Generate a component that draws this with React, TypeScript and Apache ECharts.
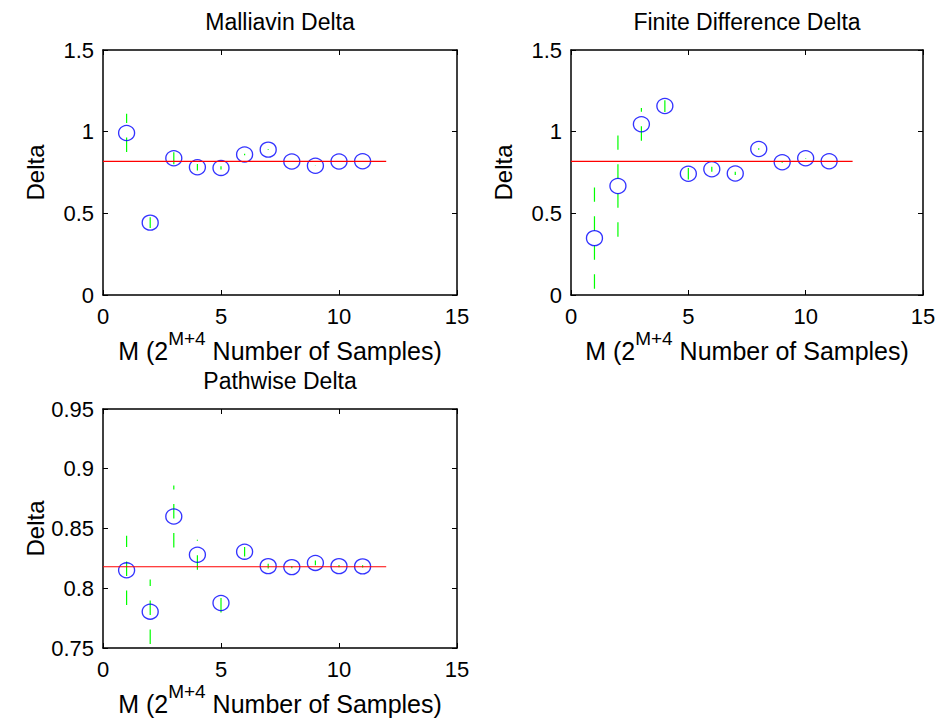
import React, { useEffect, useRef } from "react";
import * as echarts from "echarts";

const mValues = [1, 2, 3, 4, 5, 6, 7, 8, 9, 10, 11];
const malliavinDelta = [0.992, 0.443, 0.837, 0.782, 0.778, 0.86, 0.89, 0.817, 0.791, 0.817, 0.819];
const malliavinErr = [0.117, 0.033, 0.037, 0.02, 0.01, 0.005, 0.002, 0.001, 0.001, 0.001, 0.001];
const finiteDelta = [0.348, 0.667, 1.045, 1.157, 0.742, 0.77, 0.744, 0.894, 0.813, 0.837, 0.819];
const finiteErr = [0.31, 0.31, 0.1, 0.036, 0.035, 0.015, 0.01, 0.004, 0.003, 0.002, 0.002];
const pathwiseDelta = [0.815, 0.7804, 0.86, 0.828, 0.7877, 0.8306, 0.8185, 0.8177, 0.8212, 0.8185, 0.8183];
const pathwiseErr = [0.029, 0.027, 0.026, 0.0125, 0.008, 0.004, 0.002, 0.001, 0.002, 0.001, 0.001];
const trueDelta = 0.818;
const trueLineX = [0, 12];

const titles = ["Malliavin Delta", "Finite Difference Delta", "Pathwise Delta"];
const xLabel = "M (2{sup|M+4} Number of Samples)";
const yLabel = "Delta";
const xRange = [0, 15, 5];
const yRanges = [
  [0, 1.5, 0.5],
  [0, 1.5, 0.5],
  [0.75, 0.95, 0.05],
];

const FONT = "'Liberation Sans', Arial, Helvetica, sans-serif";

export default function App() {
  const ref = useRef<HTMLDivElement>(null);
  useEffect(() => {
    if (!ref.current) return;
    const chart = echarts.init(ref.current, null, { renderer: "svg" });
    const grids = [
      { left: 103, top: 50, width: 354, height: 245 },
      { left: 571, top: 50, width: 352, height: 245 },
      { left: 103, top: 409, width: 354, height: 244 },
    ];
    const datasets = [
      [malliavinDelta, malliavinErr],
      [finiteDelta, finiteErr],
      [pathwiseDelta, pathwiseErr],
    ];
    const axisLine = { show: true, onZero: false, lineStyle: { color: "#000", width: 1.5 } };
    const axisTick = { show: true, inside: true, length: 5, lineStyle: { color: "#000", width: 1 } };
    const xAxes: any[] = [];
    const yAxes: any[] = [];
    const series: any[] = [];
    const graphics: any[] = [];
    grids.forEach((g, i) => {
      const [ymin, ymax, yint] = yRanges[i];
      xAxes.push({
        gridIndex: i,
        type: "value",
        min: xRange[0],
        max: xRange[1],
        interval: xRange[2],
        position: "bottom",
        axisLine,
        axisTick,
        axisLabel: { color: "#000", fontSize: 22, fontFamily: FONT, margin: 10 },
        splitLine: { show: false },
        name: xLabel,
        nameLocation: "middle",
        nameGap: 34,
        nameTextStyle: {
          color: "#000",
          fontSize: 25,
          lineHeight: 44,
          fontFamily: FONT,
          rich: {
            sup: { fontSize: 19, lineHeight: 19, fontFamily: FONT, color: "#000", verticalAlign: "top" },
          },
        },
      });
      xAxes.push({
        gridIndex: i,
        type: "value",
        min: xRange[0],
        max: xRange[1],
        interval: xRange[2],
        position: "top",
        axisLine,
        axisTick,
        axisLabel: { show: false },
        splitLine: { show: false },
      });
      yAxes.push({
        gridIndex: i,
        type: "value",
        min: ymin,
        max: ymax,
        interval: yint,
        position: "left",
        axisLine,
        axisTick,
        axisLabel: { color: "#000", fontSize: 22, fontFamily: FONT, margin: 9 },
        splitLine: { show: false },
        name: yLabel,
        nameLocation: "middle",
        nameRotate: 90,
        nameGap: 56,
        nameTextStyle: { color: "#000", fontSize: 24, fontFamily: FONT },
      });
      yAxes.push({
        gridIndex: i,
        type: "value",
        min: ymin,
        max: ymax,
        interval: yint,
        position: "right",
        axisLine,
        axisTick,
        axisLabel: { show: false },
        splitLine: { show: false },
      });
      const [vals, errs] = datasets[i];
      series.push({
        type: "custom",
        xAxisIndex: i * 2,
        yAxisIndex: i * 2,
        data: mValues.map((m, k) => [m, vals[k], errs[k]]),
        renderItem: (params: any, api: any) => {
          const x = api.value(0);
          const y = api.value(1);
          const e = api.value(2);
          const lo = api.coord([x, y - e]);
          const hi = api.coord([x, y + e]);
          return {
            type: "line",
            shape: { x1: lo[0], y1: lo[1], x2: hi[0], y2: hi[1] },
            style: { stroke: "#00ff00", lineWidth: 1.2, lineDash: [14.5, 14.5] },
          };
        },
        z: 1,
      });
      series.push({
        type: "scatter",
        xAxisIndex: i * 2,
        yAxisIndex: i * 2,
        data: mValues.map((m, k) => [m, vals[k]]),
        symbol: "circle",
        symbolSize: [16, 15],
        itemStyle: { color: "none", borderColor: "#0000ff", borderWidth: 1.3 },
        z: 2,
      });
      series.push({
        type: "line",
        xAxisIndex: i * 2,
        yAxisIndex: i * 2,
        data: trueLineX.map((x) => [x, trueDelta]),
        showSymbol: false,
        symbol: "none",
        lineStyle: { color: "#ff0000", width: 1.2 },
        z: 3,
      });
      graphics.push({
        type: "text",
        x: g.left + g.width / 2,
        y: g.top - 28,
        style: {
          text: titles[i],
          fontSize: 23,
          fontFamily: FONT,
          fill: "#000",
          textAlign: "center",
          textVerticalAlign: "middle",
        },
      });
    });
    chart.setOption({
      animation: false,
      backgroundColor: "#fff",
      grid: grids,
      xAxis: xAxes,
      yAxis: yAxes,
      series,
      graphic: graphics,
    });
    return () => chart.dispose();
  }, []);
  return (
    <div
      ref={ref}
      style={{ position: "absolute", left: 0, top: 0, width: 941, height: 727 }}
    />
  );
}
